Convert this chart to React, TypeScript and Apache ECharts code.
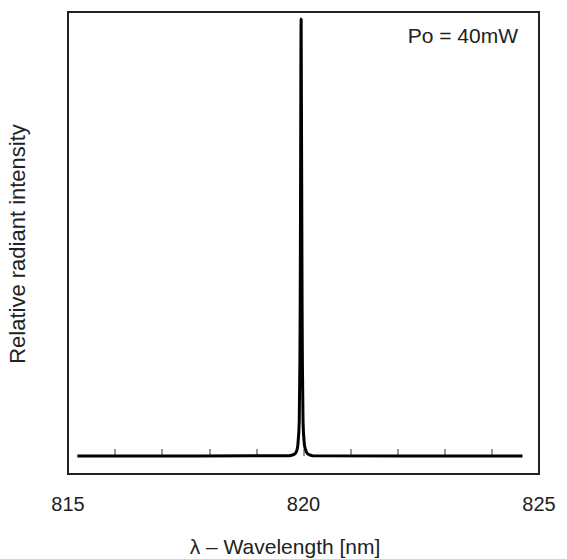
import React, { useEffect, useRef } from "react";
import * as echarts from "echarts";

const wavelengths = [815.2, 819.7, 819.8, 819.85, 819.88, 819.91, 819.93, 819.95, 819.97, 819.99, 820.02, 820.06, 820.1, 820.2, 824.65];
const intensities = [0, 0.001, 0.004, 0.01, 0.025, 0.08, 0.35, 1.0, 0.35, 0.08, 0.025, 0.01, 0.004, 0.001, 0];
const xTicks = { min: 815, max: 825, major: 5 };
const annotation = "Po = 40mW";
const xName = "λ – Wavelength [nm]";
const yName = "Relative radiant intensity";

export default function App() {
  const ref = useRef<HTMLDivElement>(null);
  useEffect(() => {
    const chart = echarts.init(ref.current!, null, { renderer: "svg" });
    const font = "'Liberation Sans', Arial, sans-serif";
    const grid = { left: 68, top: 12, right: 28, bottom: 85 };
    chart.setOption({
      animation: false,
      backgroundColor: "#fff",
      grid: { ...grid, show: false },
      xAxis: {
        type: "value",
        min: xTicks.min, max: xTicks.max, interval: xTicks.major,
        axisLine: { show: false },
        axisTick: { show: true, inside: true, length: 7, lineStyle: { color: "#777", width: 1.5 } },
        minorTick: { show: true, splitNumber: 5, length: 7, lineStyle: { color: "#777", width: 1.5 } },
        splitLine: { show: false },
        axisLabel: { color: "#222", fontSize: 20, fontFamily: font, margin: 20 },
      },
      yAxis: {
        type: "value",
        min: -0.041, max: 1.016,
        axisLine: { show: false }, axisTick: { show: false }, axisLabel: { show: false },
        splitLine: { show: false },
      },
      series: [{
        type: "line",
        data: wavelengths.map((w, i) => [w, intensities[i]]),
        smooth: 0.3,
        showSymbol: false,
        lineStyle: { color: "#000", width: 3 },
      }],
      graphic: [
        {
          type: "rect", z: 100, silent: true,
          shape: { x: grid.left, y: grid.top, width: 567 - grid.left - grid.right, height: 559 - grid.top - grid.bottom },
          style: { fill: "none", stroke: "#222", lineWidth: 2 },
        },
        { type: "text", x: 518, y: 35, style: { text: annotation, fontSize: 21, fontFamily: font, fill: "#222", align: "right", verticalAlign: "middle" } },
        { type: "text", x: 285, y: 546, style: { text: xName, fontSize: 21, fontFamily: font, fill: "#222", align: "center", verticalAlign: "middle" } },
        { type: "text", x: 17, y: 244, rotation: Math.PI / 2, style: { text: yName, fontSize: 22, fontFamily: font, fill: "#222", align: "center", verticalAlign: "middle" } },
      ],
    });
    return () => chart.dispose();
  }, []);
  return <div ref={ref} style={{ width: 567, height: 559, position: "absolute", left: 0, top: 0 }} />;
}
